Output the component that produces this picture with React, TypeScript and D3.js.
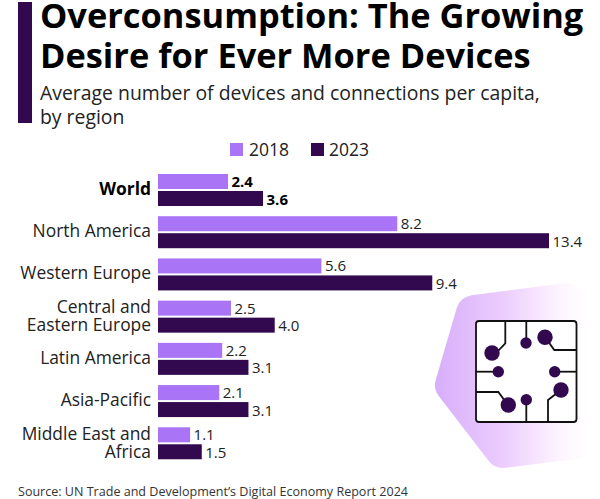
import React from "react";
import * as d3 from "d3";

const categories = ["World", "North America", "Western Europe", "Central and|Eastern Europe", "Latin America", "Asia-Pacific", "Middle East and|Africa"];
const values2018 = [2.4, 8.2, 5.6, 2.5, 2.2, 2.1, 1.1];
const values2023 = [3.6, 13.4, 9.4, 4.0, 3.1, 3.1, 1.5];
const seriesNames = ["2018", "2023"];
const titleLines = ["Overconsumption: The Growing", "Desire for Ever More Devices"];
const subtitleLines = ["Average number of devices and connections per capita,", "by region"];
const sourceText = "Source: UN Trade and Development’s Digital Economy Report 2024";

const LIGHT = "#a974f5";
const DARK = "#32094f";
const FONT = "'Open Sans', sans-serif";

const x = d3.scaleLinear().domain([0, 13.4]).range([158, 549]);
const y = d3.scaleBand<number>().domain(d3.range(categories.length)).range([169.5, 465]).paddingInner(0).paddingOuter(0);
const barH = 15;

const traces = [
  "M505.3 321 V343.3 L498 351", "M526.3 321 V343", "M545 337 L554.3 350 H576.5", "M498 371.7 H476", "M554.7 371.7 H576.5",
  "M476 392 H498.3 L508 405", "M526.3 400 V422", "M561 390 L548 400 V422",
];
const dots: [number, number, number][] = [
  [492, 353, 7.7], [526, 343, 5.7], [545, 337.3, 7.7], [498.3, 371.7, 5.7], [554.7, 371.7, 5.7],
  [561, 390, 7.7], [526.3, 399.7, 5.7], [508.3, 405, 7.7],
];

export default function App() {
  const hex = d3.line().curve(d3.curveLinearClosed)([[566, 301], [474, 313], [453, 385], [503, 450], [592, 439], [600, 370]] as [number, number][]);
  return (
    <svg width={600} height={499} viewBox="0 0 600 499" style={{ position: "absolute", left: 0, top: 0, background: "#fff" }} fontFamily={FONT}>
      <defs>
        <linearGradient id="hexFill" gradientUnits="userSpaceOnUse" x1={435} x2={588} y1={0} y2={0}>
          <stop offset="0" stopColor="#d7aefb" />
          <stop offset="0.45" stopColor="#eccdfd" />
          <stop offset="0.8" stopColor="#fdf3ff" />
          <stop offset="1" stopColor="#fff" />
        </linearGradient>
      </defs>
      <rect x={18} y={2} width={14} height={121} fill={DARK} />
      {titleLines.map((t, i) => (
        <text key={t} x={40} y={28 + i * 39.5} fontSize={34.4} fontWeight={700} fill="#000">{t}</text>
      ))}
      {subtitleLines.map((t, i) => (
        <text key={t} x={40} y={99.5 + i * 24} fontSize={19.4} fill="#222">{t}</text>
      ))}
      <rect x={230} y={143} width={13} height={13} fill={LIGHT} />
      <text x={249} y={156} fontSize={17.5} fill="#222">{seriesNames[0]}</text>
      <rect x={311} y={143} width={13} height={13} fill={DARK} />
      <text x={329} y={156} fontSize={17.5} fill="#222">{seriesNames[1]}</text>

      <path d={hex ?? ""} fill="url(#hexFill)" stroke="url(#hexFill)" strokeWidth={36} strokeLinejoin="round" />
      <rect x={476} y={321} width={100.5} height={101} rx={3} fill="#fff" stroke="#111" strokeWidth={1.8} />
      {traces.map((d) => <path key={d} d={d} fill="none" stroke="#111" strokeWidth={1.8} />)}
      {dots.map(([cx, cy, r]) => <circle key={`${cx}-${cy}`} cx={cx} cy={cy} r={r} fill={DARK} />)}

      {categories.map((c, i) => {
        const top = y(i)! + 4.5;
        const bold = i === 0;
        const lines = c.split("|");
        const mid = top + 16;
        return (
          <g key={c}>
            <rect x={x(0)} y={top} width={x(values2018[i]) - x(0)} height={barH} fill={LIGHT} />
            <rect x={x(0)} y={top + 17} width={x(values2023[i]) - x(0)} height={barH} fill={DARK} />
            <text x={x(values2018[i]) + 3.5} y={top + 13} fontSize={15} fontWeight={bold ? 700 : 400} fill={bold ? "#000" : "#222"}>{values2018[i].toFixed(1)}</text>
            <text x={x(values2023[i]) + 3.5} y={top + 30.5} fontSize={15} fontWeight={bold ? 700 : 400} fill={bold ? "#000" : "#222"}>{values2023[i].toFixed(1)}</text>
            {lines.map((l, j) => (
              <text key={l} x={151} y={mid + 5 + (j - (lines.length - 1) / 2) * 18.5 + (lines.length > 1 ? 0.5 : 0)} textAnchor="end" fontSize={17.4} fontWeight={bold ? 700 : 400} fill={bold ? "#000" : "#222"}>{l}</text>
            ))}
          </g>
        );
      })}
      <text x={18} y={496} fontSize={12.55} fill="#333">{sourceText}</text>
    </svg>
  );
}
